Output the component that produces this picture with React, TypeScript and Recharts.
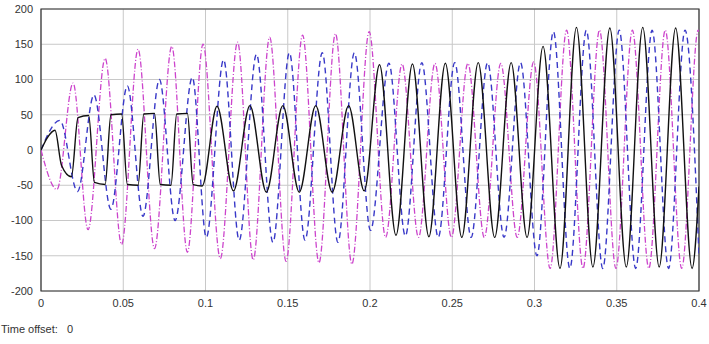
import React from 'react';
import { LineChart, Line, XAxis, YAxis, CartesianGrid, ReferenceArea } from 'recharts';

// [time (s), value] pairs: extrema plus a few shoulder points
const blackTrace = [
  [0, 0], [0.004, 18], [0.0085, 28], [0.0125, -22], [0.0185, -38],
  [0.0225, 46], [0.029, 49], [0.0325, -46], [0.039, -49],
  [0.0425, 50], [0.049, 51], [0.0525, -49], [0.059, -50],
  [0.0625, 51], [0.069, 52], [0.0725, -49], [0.079, -50],
  [0.0825, 51], [0.089, 52], [0.0925, -49], [0.098, -51],
  [0.107, 62], [0.117, -58], [0.127, 63], [0.137, -60], [0.147, 63],
  [0.157, -60], [0.167, 63], [0.177, -60], [0.187, 63], [0.1965, -58],
  [0.2058, 121], [0.2158, -121], [0.2258, 122], [0.2358, -123], [0.2458, 123],
  [0.2558, -124], [0.2658, 124], [0.2758, -124], [0.2858, 124], [0.2955, -124],
  [0.3052, 147], [0.3155, -168], [0.3255, 174], [0.3355, -166], [0.3458, 173],
  [0.3558, -166], [0.3658, 174], [0.3758, -166], [0.3858, 173], [0.3958, -168],
  [0.4, -52],
];

const blueTrace = [
  [0, 0], [0.0115, 42], [0.0222, -59], [0.0322, 78], [0.0425, -84],
  [0.0525, 91], [0.062, -94], [0.072, 100], [0.0815, -100], [0.092, 103],
  [0.1005, -124], [0.111, 128], [0.1205, -128], [0.131, 136], [0.141, -131],
  [0.151, 138], [0.1605, -128], [0.171, 138], [0.1805, -131], [0.1905, 138],
  [0.2003, -114], [0.2115, 123], [0.2215, -122], [0.2315, 124], [0.2415, -124],
  [0.2515, 124], [0.2615, -124], [0.2715, 124], [0.2815, -124], [0.2915, 124],
  [0.3015, -150], [0.3115, 168], [0.3215, -168], [0.3315, 170], [0.3415, -168],
  [0.3515, 170], [0.3615, -168], [0.3715, 170], [0.3815, -168], [0.3915, 170],
  [0.4, -150],
];

const magentaTrace = [
  [0, 0], [0.0097, -56], [0.0195, 95], [0.0286, -113], [0.039, 130],
  [0.049, -134], [0.059, 143], [0.069, -140], [0.0795, 147], [0.089, -145],
  [0.0985, 150], [0.109, -154], [0.1195, 153], [0.129, -156], [0.139, 160],
  [0.149, -158], [0.159, 163], [0.169, -160], [0.179, 165], [0.189, -162],
  [0.1995, 168], [0.2095, -124], [0.2195, 122], [0.2295, -124], [0.2395, 123],
  [0.2495, -124], [0.2595, 123], [0.2695, -124], [0.2795, 123], [0.2895, -124],
  [0.2995, 125], [0.3095, -168], [0.3195, 170], [0.3295, -168], [0.3395, 170],
  [0.3495, -168], [0.3595, 170], [0.3695, -168], [0.3795, 170], [0.3895, -168],
  [0.3995, 170], [0.4, 168],
];

const xTicks = [0, 0.05, 0.1, 0.15, 0.2, 0.25, 0.3, 0.35, 0.4];
const yTicks = [-200, -150, -100, -50, 0, 50, 100, 150, 200];

const toRows = (pairs: number[][]) => pairs.map(([t, v]) => ({ t, v }));

const tickStyle = { fontSize: 11, fill: '#333', fontFamily: 'Liberation Sans, Arial, sans-serif' };

const App = () => {
  return (
    <div style={{ position: 'absolute', left: 0, top: 0, width: 709, height: 344, background: '#fff' }}>
      <LineChart width={709} height={344} margin={{ top: 9, right: 10, left: 0, bottom: 33 }}>
        <CartesianGrid stroke="#c8c8c8" strokeWidth={1} />
        <XAxis
          dataKey="t"
          type="number"
          domain={[0, 0.4]}
          ticks={xTicks}
          tickFormatter={(v: number) => String(v)}
          tick={tickStyle}
          tickLine={false}
          axisLine={false}
          height={20}
          allowDataOverflow
        />
        <YAxis
          type="number"
          domain={[-200, 200]}
          ticks={yTicks}
          tick={tickStyle}
          tickLine={false}
          axisLine={false}
          width={41}
          allowDataOverflow
        />
        <Line data={toRows(magentaTrace)} dataKey="v" type="monotone" stroke="#cc44cc" strokeWidth={1.3}
          strokeDasharray="6 2 1 2" dot={false} isAnimationActive={false} />
        <Line data={toRows(blueTrace)} dataKey="v" type="monotone" stroke="#3838c8" strokeWidth={1.4}
          strokeDasharray="6 4" dot={false} isAnimationActive={false} />
        <Line data={toRows(blackTrace)} dataKey="v" type="monotone" stroke="#111" strokeWidth={1.4}
          dot={false} isAnimationActive={false} />
        <ReferenceArea x1={0} x2={0.4} y1={-200} y2={200} fill="none" stroke="#333" strokeWidth={1.2} />
      </LineChart>
      <div style={{ position: 'absolute', left: 1, top: 323, fontSize: 11, color: '#333',
        fontFamily: 'Liberation Sans, Arial, sans-serif', whiteSpace: 'pre' }}>
        {'Time offset:   0'}
      </div>
    </div>
  );
};

export default App;
